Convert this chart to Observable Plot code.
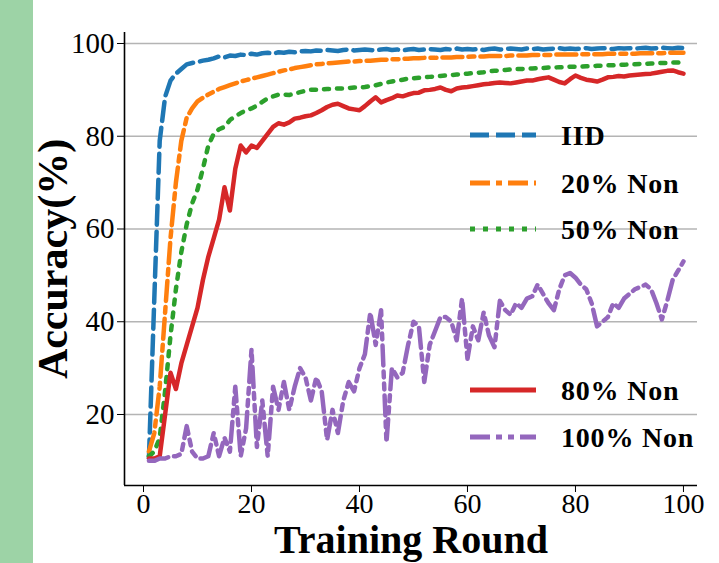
<!DOCTYPE html>
<html><head><meta charset="utf-8">
<script src="https://cdn.jsdelivr.net/npm/d3@7"></script>
<script src="https://cdn.jsdelivr.net/npm/@observablehq/plot@0.6"></script>
<style>
body{margin:0;background:#fff;}
#wrap{position:relative;width:719px;height:563px;overflow:hidden;background:#fff;}
#strip{position:absolute;left:0;top:0;width:33px;height:563px;background:#9dd3a6;}
#chart{position:absolute;left:0;top:0;}
</style></head><body><div id="wrap"><div id="strip"></div><div id="chart"></div></div>
<script>
const rounds = d3.range(1, 101);
const xTicks = [0, 20, 40, 60, 80, 100];
const yTicks = [20, 40, 60, 80, 100];
const names = ["IID", "20% Non", "50% Non", "80% Non", "100% Non"];

const iid = [10.5,45,79,88.5,92,93.5,94.5,95.5,95.8,96,
96.3,96.5,96.8,97.2,97,97.4,97.3,97.6,97.5,97.8,
97.6,97.9,98,97.8,98.1,98,98.2,98.1,98.3,98.4,
98.3,98.5,98.4,98.6,98.5,98.4,98.6,98.7,98.5,98.6,
98.7,98.6,98.5,98.7,98.8,98.6,98.7,98.5,98.7,98.8,
98.6,98.7,98.8,98.7,98.6,98.8,98.7,98.9,98.7,98.8,
98.7,98.8,98.6,98.8,98.9,98.7,98.8,98.9,98.8,98.7,
98.9,98.8,98.9,98.7,98.8,98.9,99,98.8,98.9,98.8,
98.9,99,98.8,98.9,99,98.9,98.8,99,98.9,99,
98.9,99,99.1,98.9,99,99.1,99,98.9,99.1,99];

const non20 = [12,16,26,42,58,70,79,84,86,87.5,
88.3,89,89.6,90.2,90.6,91,91.4,91.8,92.1,92.4,
92.7,93,93.3,93.6,93.9,94.2,94.4,94.7,94.9,95.1,
95.3,95.5,95.6,95.7,95.8,95.9,96,96.1,96.1,96.2,
96.3,96.3,96.4,96.5,96.5,96.6,96.6,96.7,96.7,96.8,
96.8,96.9,96.9,96.9,97,97,97,97.1,97.1,97.1,
97.2,97.2,97.2,97.3,97.3,97.3,97.3,97.4,97.4,97.4,
97.4,97.5,97.5,97.5,97.5,97.6,97.6,97.6,97.6,97.6,
97.7,97.7,97.7,97.7,97.7,97.8,97.8,97.8,97.8,97.8,
97.8,97.9,97.9,97.9,97.9,97.9,98,98,98,98];

const non50 = [11,12,15,25,37,47,55,61,65.5,68.5,
73,78,80.5,81.5,82,83.5,84.3,85,85.6,86,
86.6,87.4,88.2,88.6,89,89,88.9,89.2,89.5,89.8,
90,90,90.1,90.2,90.2,90.3,90.3,90.4,90.5,90.5,
90.6,90.8,91,91.3,91.6,91.8,92,92.2,92.4,92.5,
92.6,92.7,92.8,92.9,93,93.1,93.2,93.3,93.4,93.5,
93.6,93.7,93.8,94,94.1,94.2,94.3,94.4,94.5,94.5,
94.6,94.6,94.7,94.7,94.8,94.8,94.9,94.9,95,95,
95,95.1,95.1,95.2,95.2,95.3,95.3,95.4,95.4,95.5,
95.5,95.6,95.6,95.7,95.7,95.8,95.8,95.9,95.9,96];

const non80 = [10.5,10.5,11,20,29,25.5,31,35,39,43,
49,54,58,62,69,64,73,78,76.5,78,
77.5,79,80.5,82,82.8,82.5,83,83.8,84,84.3,
84.5,85,85.6,86.3,86.8,87,86.5,86,85.8,85.6,
86.5,87.5,88.4,87.3,87.8,88.2,88.8,88.6,89,89.3,
89.4,89.9,90,90.2,90.5,90,89.7,90.3,90.5,90.6,
90.8,91,91.2,91.3,91.5,91.6,91.5,91.4,91.6,91.8,
92,92,92.3,92.5,92.7,92.2,91.7,91.4,92.3,93.1,
92.6,92.2,92,91.8,92.2,92.7,92.8,93,92.9,93.1,
93.2,93.3,93.4,93.5,93.7,93.9,94.1,94.2,93.8,93.5];

const non100 = [10,10,10.5,10.5,11,11,11.5,17.5,12,10.5,
10.5,11,16,11,15,12,26,11,17,34,
13,23,11,26,21,27,21,26,30,28,
23,28,25,14.5,21,16,23,27,25,30,
33,42,35,42.5,14,30,28,29,35,40,
39,27,35,38,41,41,40,36,45,32,
39,36,42,37,34.5,44.5,42.5,41.5,44,43,
45,45.5,48,46,44,42.5,47,50,50.5,49.5,
48,47,44,39,40,41,44,43,45,46,
47,47.5,48,47,44,40.5,44.5,49,51,53];

const colors = ["#1f77b4", "#ff7f0e", "#2ca02c", "#d62728", "#9467bd"];
const dashes = ["19,7", "20,6,6,6", "5,8", null, "20,6,6,6,6,6"];
const allValues = [iid, non20, non50, non80, non100];

const data = allValues.flatMap((vals, k) => vals.map((v, i) => ({round: rounds[i], acc: v, name: names[k]})));

const xDomain = [-3.52, 102.6];
const yDomain = [4.69, 102.37];
const serif = "'Liberation Serif', 'Times New Roman', serif";

const chart = Plot.plot({
  width: 719, height: 563,
  marginLeft: 124, marginRight: 22, marginTop: 32, marginBottom: 78,
  style: {fontFamily: serif, color: "#000", background: "transparent", overflow: "visible"},
  x: {domain: xDomain},
  y: {domain: yDomain},
  marks: [
    Plot.ruleY(yTicks, {stroke: "#b4b4b4", strokeWidth: 1.3}),
    ...names.map((n, k) => Plot.line(data.filter(d => d.name === n), {
      x: "round", y: "acc", stroke: colors[k], strokeWidth: 4.5,
      strokeDasharray: dashes[k], strokeLinejoin: "round"
    })),
    Plot.ruleX([xDomain[0]], {stroke: "#000", strokeWidth: 1.6}),
    Plot.ruleY([yDomain[0]], {stroke: "#000", strokeWidth: 1.6}),
    Plot.axisX({ticks: xTicks, tickSize: 7, tickPadding: 1, fontSize: 28, label: null, tickFormat: d => d, stroke: "#000"}),
    Plot.axisY({ticks: yTicks, tickSize: 7, tickPadding: 3, fontSize: 29, label: null, tickFormat: d => d, stroke: "#000"}),
    Plot.text(["Training Round"], {frameAnchor: "bottom", lineAnchor: "middle", dy: 55, fontSize: 40, fontWeight: "bold", fill: "#000"}),
    Plot.text(["Accuracy(%)"], {frameAnchor: "left", textAnchor: "middle", lineAnchor: "middle", dx: -71, dy: 0, rotate: -90, fontSize: 42, fontWeight: "bold", fill: "#000"})
  ]
});
document.getElementById("chart").appendChild(chart);

// legend
const svg = d3.select(chart);
const legendY = [135, 183, 229, 390, 437];
const lg = svg.append("g").attr("text-anchor", "start");
names.forEach((n, k) => {
  lg.append("line").attr("x1", 470).attr("x2", 536).attr("y1", legendY[k]).attr("y2", legendY[k])
    .attr("stroke", colors[k]).attr("stroke-width", 5).attr("stroke-dasharray", dashes[k]);
  lg.append("text").attr("x", 561).attr("y", legendY[k]).attr("dy", "0.35em")
    .attr("font-family", serif).attr("font-weight", "bold").attr("font-size", 28)
    .attr("letter-spacing", "0.8px")
    .attr("fill", "#000").text(n);
});
</script></body></html>
